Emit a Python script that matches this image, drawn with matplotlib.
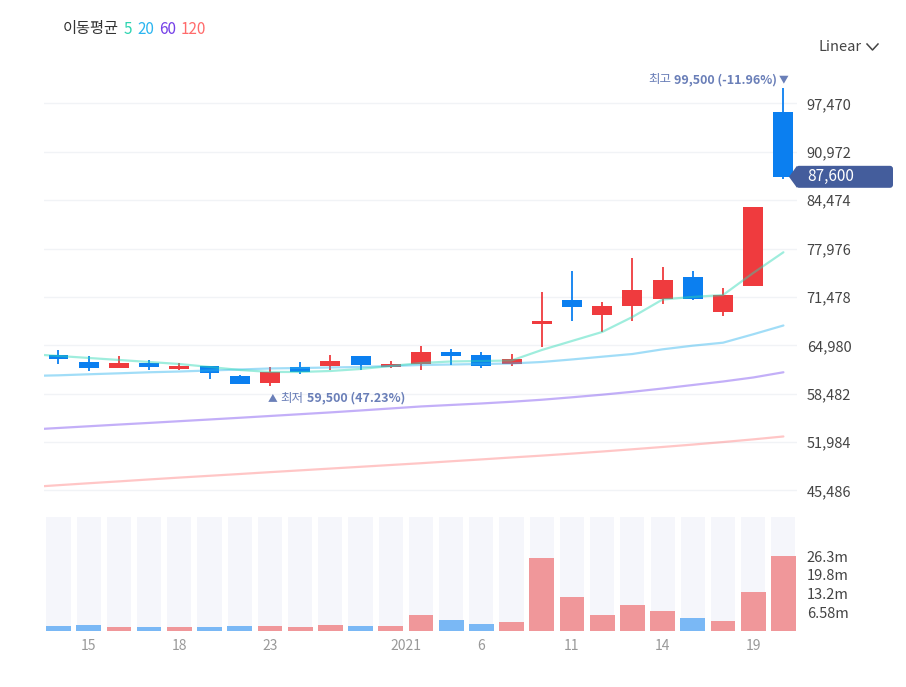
import matplotlib.pyplot as plt
from matplotlib.patches import Polygon, FancyBboxPatch
from matplotlib.lines import Line2D
from matplotlib.transforms import IdentityTransform
import numpy as np

plt.rcParams['font.family'] = ['Noto Sans CJK KR', 'DejaVu Sans']

# daily candles, 2020-12-14 .. 2021-01-20
opens = [63700, 62800, 61900, 62600, 61800, 62200, 60800, 59900, 62000, 62200, 63600, 62000, 62500,
         64100, 63700, 62500, 67800, 71000, 69000, 70300, 71200, 74200, 69500, 73000, 96300]
closes = [63100, 61900, 62600, 62000, 62200, 61200, 59800, 61400, 61400, 62900, 62300, 62500, 64100,
          63600, 62200, 63100, 68300, 70100, 70300, 72400, 73800, 71200, 71700, 83500, 87600]
highs = [64300, 63500, 63500, 63000, 62600, 62200, 61000, 62000, 62800, 63700, 63600, 62900, 64900,
         64500, 64100, 63800, 72100, 75000, 70800, 76700, 75500, 75000, 72700, 83500, 99500]
lows = [62500, 61500, 61900, 61600, 61700, 60400, 59800, 59500, 61100, 61700, 61600, 61900, 61700,
        62300, 61900, 62200, 64700, 68300, 66800, 68200, 70500, 71100, 68900, 73000, 87300]
volumes = [1760000, 2200000, 1400000, 1400000, 1400000, 1400000, 1760000, 1760000, 1400000, 2200000,
           1760000, 1760000, 5700000, 4000000, 2550000, 3050000, 25500000, 11800000, 5600000, 9100000,
           7000000, 4450000, 3500000, 13700000, 26336096]

# moving averages, first value is the day before the first candle
ma5 = [63810, 63550, 63280, 63010, 62740, 62470, 62070, 61670, 61400, 61400, 61530, 61800, 62200,
       62600, 62810, 62870, 62940, 64350, 65560, 66770, 68780, 71130, 71470, 71730, 74690, 77470]
ma20 = [60860, 60950, 61090, 61220, 61360, 61460, 61600, 61730, 61870, 61930, 62000, 62070, 62200,
        62340, 62400, 62470, 62540, 62740, 63080, 63450, 63810, 64440, 64930, 65330, 66460, 67640]
ma60 = [53650, 53880, 54110, 54340, 54560, 54790, 55020, 55250, 55490, 55730, 55970, 56230, 56500,
        56770, 56970, 57170, 57400, 57670, 58000, 58350, 58740, 59180, 59650, 60120, 60660, 61360]
ma120 = [45930, 46200, 46460, 46710, 46970, 47220, 47460, 47700, 47950, 48190, 48430, 48670, 48910,
         49150, 49410, 49660, 49920, 50170, 50440, 50720, 51020, 51330, 51650, 51990, 52350, 52740]

price_ticks = [45486, 51984, 58482, 64980, 71478, 77976, 84474, 90972, 97470]
tick_pos = [1, 4, 7, 11.5, 14, 17, 20, 23]
tick_text = ['15', '18', '23', '2021', '6', '11', '14', '19']
legend_items = [('이동평균', '#333'), ('5', '#2dd4b0'), ('20', '#2cb5f0'), ('60', '#7540e8'), ('120', '#ff6b6b')]

UP, DOWN = '#ef3b3e', '#0b7ff0'
TAG = '#445d9c'
NOTE = '#6a7fb8'

W, H = 906, 687
fig = plt.figure(figsize=(W / 100, H / 100), dpi=100)


def frac(x0, y0, x1, y1):
    return [x0 / W, 1 - y1 / H, (x1 - x0) / W, (y1 - y0) / H]


ax = fig.add_axes(frac(44, 60, 797, 505))
axv = fig.add_axes(frac(44, 517, 797, 631), sharex=ax)

x = np.arange(len(closes))
xma = np.arange(-1, len(closes))
step = price_ticks[1] - price_ticks[0]
per_px = step / 48.4
ax.set_xlim(-0.48, 24.45)
ax.set_ylim(price_ticks[-1] - (505 - 103.3) * per_px, price_ticks[-1] + (103.3 - 60) * per_px)

for a in (ax, axv):
    for s in a.spines.values():
        s.set_visible(False)
    a.yaxis.tick_right()
    a.tick_params(length=0, labelsize=10.5, labelcolor='#444', pad=7)

ax.set_yticks(price_ticks)
ax.set_yticklabels([f'{v:,}' for v in price_ticks])
ax.grid(axis='y', color='#f1f3f6', lw=1)
ax.set_axisbelow(True)
ax.tick_params(axis='x', labelbottom=False)

# candles
o, c, h, l = map(np.array, (opens, closes, highs, lows))
col = np.where(c >= o, UP, DOWN)
ax.vlines(x, l, h, colors=col, lw=1.3, zorder=2)
body = np.maximum(np.abs(c - o), 350)
ax.bar(x, body, bottom=np.minimum(o, c), width=0.66, color=col, zorder=3)

# moving averages
for vals, clr, a in ((ma120, '#ff6b6b', 0.38), (ma60, '#7b4ff0', 0.45),
                     (ma20, '#30b5ef', 0.45), (ma5, '#2bd9b5', 0.45)):
    ax.plot(xma, vals, color=clr, alpha=a, lw=1.6, zorder=4, solid_capstyle='round')

# volume
vol = np.array(volumes)
vmax = vol.max()
axv.set_ylim(0, vmax * (631 - 517) / 75)
vup = np.r_[False, c[1:] >= c[:-1]]
axv.bar(x, axv.get_ylim()[1], width=0.8, color='#f5f6fb', zorder=0)
axv.bar(x, vol, width=0.82, color=np.where(vup, '#f0979a', '#7ab8f5'), zorder=2)
vt = [vmax * k / 4 for k in (1, 2, 3, 4)]
axv.set_yticks(vt)
axv.set_yticklabels([f'{v / 1e6:.3g}m' for v in vt])
axv.set_xticks(tick_pos)
axv.set_xticklabels(tick_text)
axv.tick_params(axis='x', labelsize=10, labelcolor='#999', pad=6)

fig.canvas.draw()
rend = fig.canvas.get_renderer()


def row(parts, xy, xycoords='data', dx=0.0, dy=0.0, align='left', gap=2.2):
    # lay out several differently styled texts side by side
    texts = [ax.annotate(s, xy=xy, xycoords=xycoords, xytext=(0, dy), textcoords='offset points',
                         ha='left', va='center', annotation_clip=False, **kw) for s, kw in parts]
    widths = [t.get_window_extent(rend).width * 72 / fig.dpi for t in texts]
    total = sum(widths) + gap * (len(texts) - 1)
    cur = dx - total if align == 'right' else dx
    for t, w in zip(texts, widths):
        t.xyann = (cur, dy)
        cur += w + gap


# legend and header
row([(s, dict(color=cl, fontsize=11)) for s, cl in legend_items], (63, H - 29), 'figure pixels', gap=3.5)
row([('Linear', dict(color='#444', fontsize=10.5))], (819, H - 47), 'figure pixels')
fig.add_artist(Line2D([867 / W, 872.5 / W, 878 / W], [1 - 44 / H, 1 - 50 / H, 1 - 44 / H],
                      transform=fig.transFigure, color='#444', lw=1.1))

# high / low notes
imax = int(np.argmax(h))
imin = int(np.argmin(l))
ax.annotate('▼', xy=(imax, h[imax]), xytext=(0, 6.3), textcoords='offset points', ha='center',
            va='center', fontsize=7, color=NOTE, annotation_clip=False)
row([('최고', dict(color=NOTE, fontsize=9)),
     (f'{h[imax]:,} ({(c[-1] - h[imax]) / h[imax] * 100:.2f}%)', dict(color=NOTE, fontsize=9, weight='bold'))],
    (imax, h[imax]), dx=-4.3, dy=6.3, align='right')
row([('▲', dict(color=NOTE, fontsize=7)), ('최저', dict(color=NOTE, fontsize=9)),
     (f'{l[imin]:,} ({(c[-1] - l[imin]) / l[imin] * 100:.2f}%)', dict(color=NOTE, fontsize=9, weight='bold'))],
    (imin, l[imin]), dx=-1.5, dy=-8.6)

# volume caption
row([('거래량', dict(color='#333', fontsize=10.5)),
     (f'{vol[-1]:,}', dict(color='#111', fontsize=10.5, weight='bold'))],
    (62, H - 533), 'figure pixels', gap=3)

# last price tag
yc = ax.transData.transform((0, c[-1]))[1]
xr = ax.bbox.x1
fig.add_artist(FancyBboxPatch((xr - 1, yc - 11), 97, 22, boxstyle='round,pad=0,rounding_size=3',
                              transform=IdentityTransform(), fc=TAG, ec='none'))
fig.add_artist(Polygon([(xr - 8, yc), (xr, yc + 11), (xr, yc - 11)], closed=True,
                       transform=IdentityTransform(), fc=TAG, ec='none'))
fig.text((xr + 10) / W, yc / H, f'{c[-1]:,}', color='white', fontsize=11, va='center', ha='left')

fig.savefig('out.png', dpi=100)
